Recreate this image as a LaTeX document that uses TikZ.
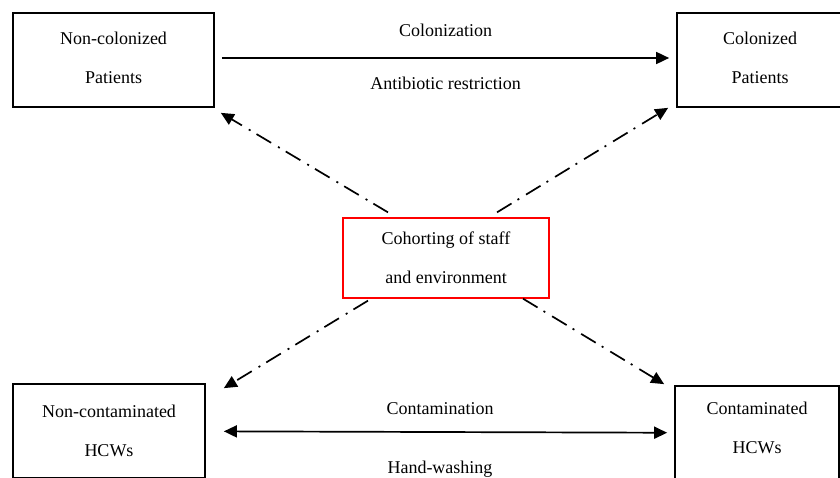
\documentclass[tikz,border=0pt]{standalone}
\usepackage{fontspec}
\setmainfont{Liberation Serif}
\usetikzlibrary{arrows.meta, positioning}

\newcommand{\raisetext}[1]{\rule[-#1]{0pt}{#1}}

\begin{document}
\begin{tikzpicture}[
      x=1pt, y=-1pt,
      box/.style={rectangle, draw, line width=1.7pt, align=center, inner sep=0pt, minimum height=94pt, font=\fontsize{18}{39}\selectfont},
      cohort/.style={box, draw=red, line width=1.3pt, minimum height=80pt},
      arrow/.style={->, >={Triangle[length=13pt, width=12pt]}, line width=1.7pt},
      dashdot/.style={arrow, dash pattern=on 17pt off 7pt on 2pt off 8pt},
      lbl/.style={font=\fontsize{18}{22}\selectfont, anchor=base, inner sep=0pt}
    ]
      \useasboundingbox (0,0) rectangle (840,478);

      \node[box, minimum width=201pt] (noncol) at (113.5,60) {Non-colonized\\Patients\raisetext{5pt}};
      \node[box, minimum width=166pt] (col) at (760,60) {Colonized\\Patients\raisetext{5pt}};
      \node[cohort, minimum width=206pt] (cohort) at (446,258) {Cohorting of staff\\and environment};
      \node[box, minimum width=192pt] (noncont) at (109,431) {Non-contaminated\\HCWs};
      \node[box, minimum width=164pt] (cont) at (757,433) {Contaminated\\HCWs\raisetext{10pt}};

      \draw[arrow, shorten <=7pt, shorten >=7pt] ([yshift=2pt]noncol.east) -- ([yshift=2pt]col.west)
        node[lbl, midway, yshift=21pt] {Colonization}
        node[lbl, midway, yshift=-32pt] {Antibiotic restriction};
      \draw[arrow, <->, shorten <=18pt, shorten >=7pt] (noncont) -- (cont)
        node[lbl, midway, yshift=18pt] {Contamination}
        node[lbl, midway, yshift=-41pt] {Hand-washing};

      % cohorting acts on all four groups
      \draw[dashdot] ([shift={(-58,-5)}]cohort.north) -- ([shift={(6,5)}]noncol.south east);
      \draw[dashdot] ([shift={(51,-5)}]cohort.north) -- ([shift={(-8,0)}]col.south west);
      \draw[dashdot] ([shift={(-78,2)}]cohort.south) -- ([shift={(18,5)}]noncont.north east);
      \draw[dashdot] ([shift={(77,0)}]cohort.south) -- ([shift={(-10,-1)}]cont.north west);
    \end{tikzpicture}
\end{document}
